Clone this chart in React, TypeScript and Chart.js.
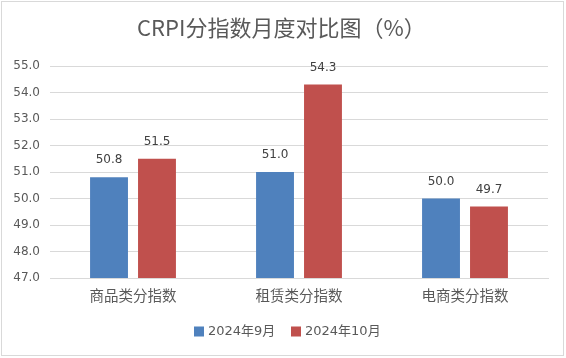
import React, { useEffect, useRef } from "react";
import { Chart, registerables } from "chart.js";

Chart.register(...registerables);

const categories = ["商品类分指数", "租赁类分指数", "电商类分指数"];
const seriesSep = [50.8, 51.0, 50.0];
const seriesOct = [51.5, 54.3, 49.7];
const seriesNames = ["2024年9月", "2024年10月"];
const seriesColors = ["#4F81BD", "#C0504D"];
const titleText = "CRPI分指数月度对比图（%）";
const yMin = 47;
const yMax = 55;

const NUM_FONT = "'DejaVu Sans', 'Noto Sans CJK SC', sans-serif";
const CJK_FONT = "'Noto Sans CJK SC', sans-serif";

const decorPlugin = {
  id: "decor",
  beforeDraw(chart: any) {
    const ctx = chart.ctx;
    ctx.save();
    ctx.fillStyle = "#ffffff";
    ctx.fillRect(0, 0, chart.width, chart.height);
    ctx.strokeStyle = "#d9d9d9";
    ctx.lineWidth = 1;
    ctx.strokeRect(1.5, 1.5, chart.width - 4, chart.height - 4);
    // title
    ctx.fillStyle = "#595959";
    ctx.font = "22px " + CJK_FONT;
    ctx.textAlign = "left";
    ctx.textBaseline = "middle";
    ctx.fillText(titleText, 137, 28);
    // legend
    const items = [
      { x: 194, tx: 208 },
      { x: 291, tx: 305 },
    ];
    ctx.font = "13px " + NUM_FONT;
    items.forEach((it, i) => {
      ctx.fillStyle = seriesColors[i];
      ctx.fillRect(it.x, 326.5, 10, 10);
      ctx.fillStyle = "#595959";
      ctx.fillText(seriesNames[i], it.tx, 331.5);
    });
    ctx.restore();
  },
  afterDatasetsDraw(chart: any) {
    const ctx = chart.ctx;
    ctx.save();
    ctx.font = "12px " + NUM_FONT;
    ctx.fillStyle = "#404040";
    ctx.textAlign = "center";
    ctx.textBaseline = "bottom";
    chart.data.datasets.forEach((ds: any, i: number) => {
      const meta = chart.getDatasetMeta(i);
      meta.data.forEach((bar: any, j: number) => {
        const v = ds.data[j];
        ctx.fillText(v.toFixed(1), bar.x, bar.y - 11);
      });
    });
    ctx.restore();
  },
};

export default function App() {
  const ref = useRef<HTMLCanvasElement>(null);
  useEffect(() => {
    const chart = new Chart(ref.current as HTMLCanvasElement, {
      type: "bar",
      data: {
        labels: categories,
        datasets: [
          { label: seriesNames[0], data: seriesSep, backgroundColor: seriesColors[0], barPercentage: 0.79, categoryPercentage: 0.578 },
          { label: seriesNames[1], data: seriesOct, backgroundColor: seriesColors[1], barPercentage: 0.79, categoryPercentage: 0.578 },
        ],
      },
      options: {
        responsive: false,
        animation: false,
        layout: { padding: { left: 0, right: 18, top: 66, bottom: 42 } },
        plugins: {
          title: { display: false },
          legend: { display: false },
          tooltip: { enabled: false },
        },
        scales: {
          x: {
            grid: { display: false },
            border: { color: "#d9d9d9" },
            ticks: { color: "#595959", font: { family: CJK_FONT, size: 14.5 }, padding: 1 },
            afterFit(scale: any) {
              scale.height = 38;
            },
          },
          y: {
            min: yMin,
            max: yMax,
            ticks: {
              stepSize: 1,
              color: "#595959",
              font: { family: NUM_FONT, size: 12 },
              padding: 10,
              callback: (v: any) => Number(v).toFixed(1),
            },
            grid: { color: "#d9d9d9", drawTicks: false },
            border: { display: false },
            afterFit(scale: any) {
              scale.width = 50;
            },
          },
        },
      },
      plugins: [decorPlugin],
    });
    return () => chart.destroy();
  }, []);
  return (
    <div style={{ position: "fixed", left: 0, top: 0, width: 566, height: 358 }}>
      <canvas ref={ref} width={566} height={358} />
    </div>
  );
}
